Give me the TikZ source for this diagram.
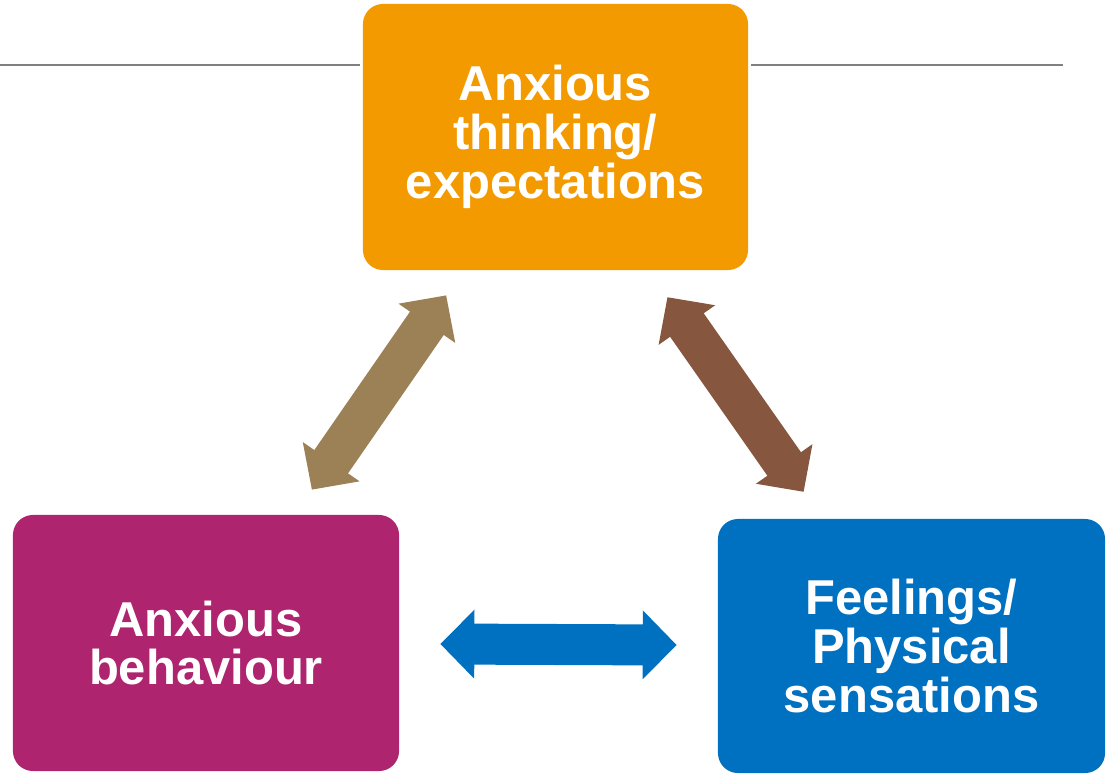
\documentclass[tikz,border=0pt]{standalone}
\usepackage{fontspec}
\setmainfont{Liberation Sans}
\usetikzlibrary{arrows.meta}
\definecolor{thinkorange}{HTML}{F39A00}
\definecolor{behavemagenta}{HTML}{AE246F}
\definecolor{feelblue}{HTML}{0070C0}
\definecolor{khaki}{HTML}{9C8157}
\definecolor{rust}{HTML}{87563F}
\definecolor{rulegray}{HTML}{808080}
\tikzset{
  box/.style={rounded corners=0.5cm, text=white, align=center, inner sep=0pt,
    font=\bfseries\fontsize{34.8}{34.8}\selectfont},
  dblarrow/.style={line width=1.025cm,
    {Triangle[length=0.85cm,width=1.675cm]}-{Triangle[length=0.85cm,width=1.675cm]}},
}
\begin{document}
\begin{tikzpicture}[x=0.025cm,y=-0.025cm]
\path[use as bounding box] (0,0) rectangle (1109,776);
\node[box, fill=thinkorange, minimum width=9.625cm, minimum height=6.65cm]
  (think) at (555.5,137) {Anxious\\thinking/\\expectations};
\node[box, fill=behavemagenta, minimum width=9.65cm, minimum height=6.4cm]
  (behave) at (206,643) {Anxious\\behaviour};
\node[box, fill=feelblue, minimum width=9.675cm, minimum height=6.35cm]
  (feel) at (911.5,646) {Feelings/\\Physical\\sensations};
\coordinate (ruleL) at (0,65);
\coordinate (ruleR) at (1063,65);
\draw[rulegray, line width=0.04cm, shorten >=0.075cm] (ruleL) -- (think.west |- ruleL);
\draw[rulegray, line width=0.04cm, shorten <=0.075cm] (think.east |- ruleR) -- (ruleR);
\path [dblarrow]
    (behave) edge[draw=khaki, shorten <=0.76cm, shorten >=0.76cm] (think)
    (think) edge[draw=rust, shorten <=0.82cm, shorten >=0.82cm] (feel)
    (behave) edge[draw=feelblue, shorten <=1.025cm, shorten >=1.025cm] (feel);
\end{tikzpicture}
\end{document}
